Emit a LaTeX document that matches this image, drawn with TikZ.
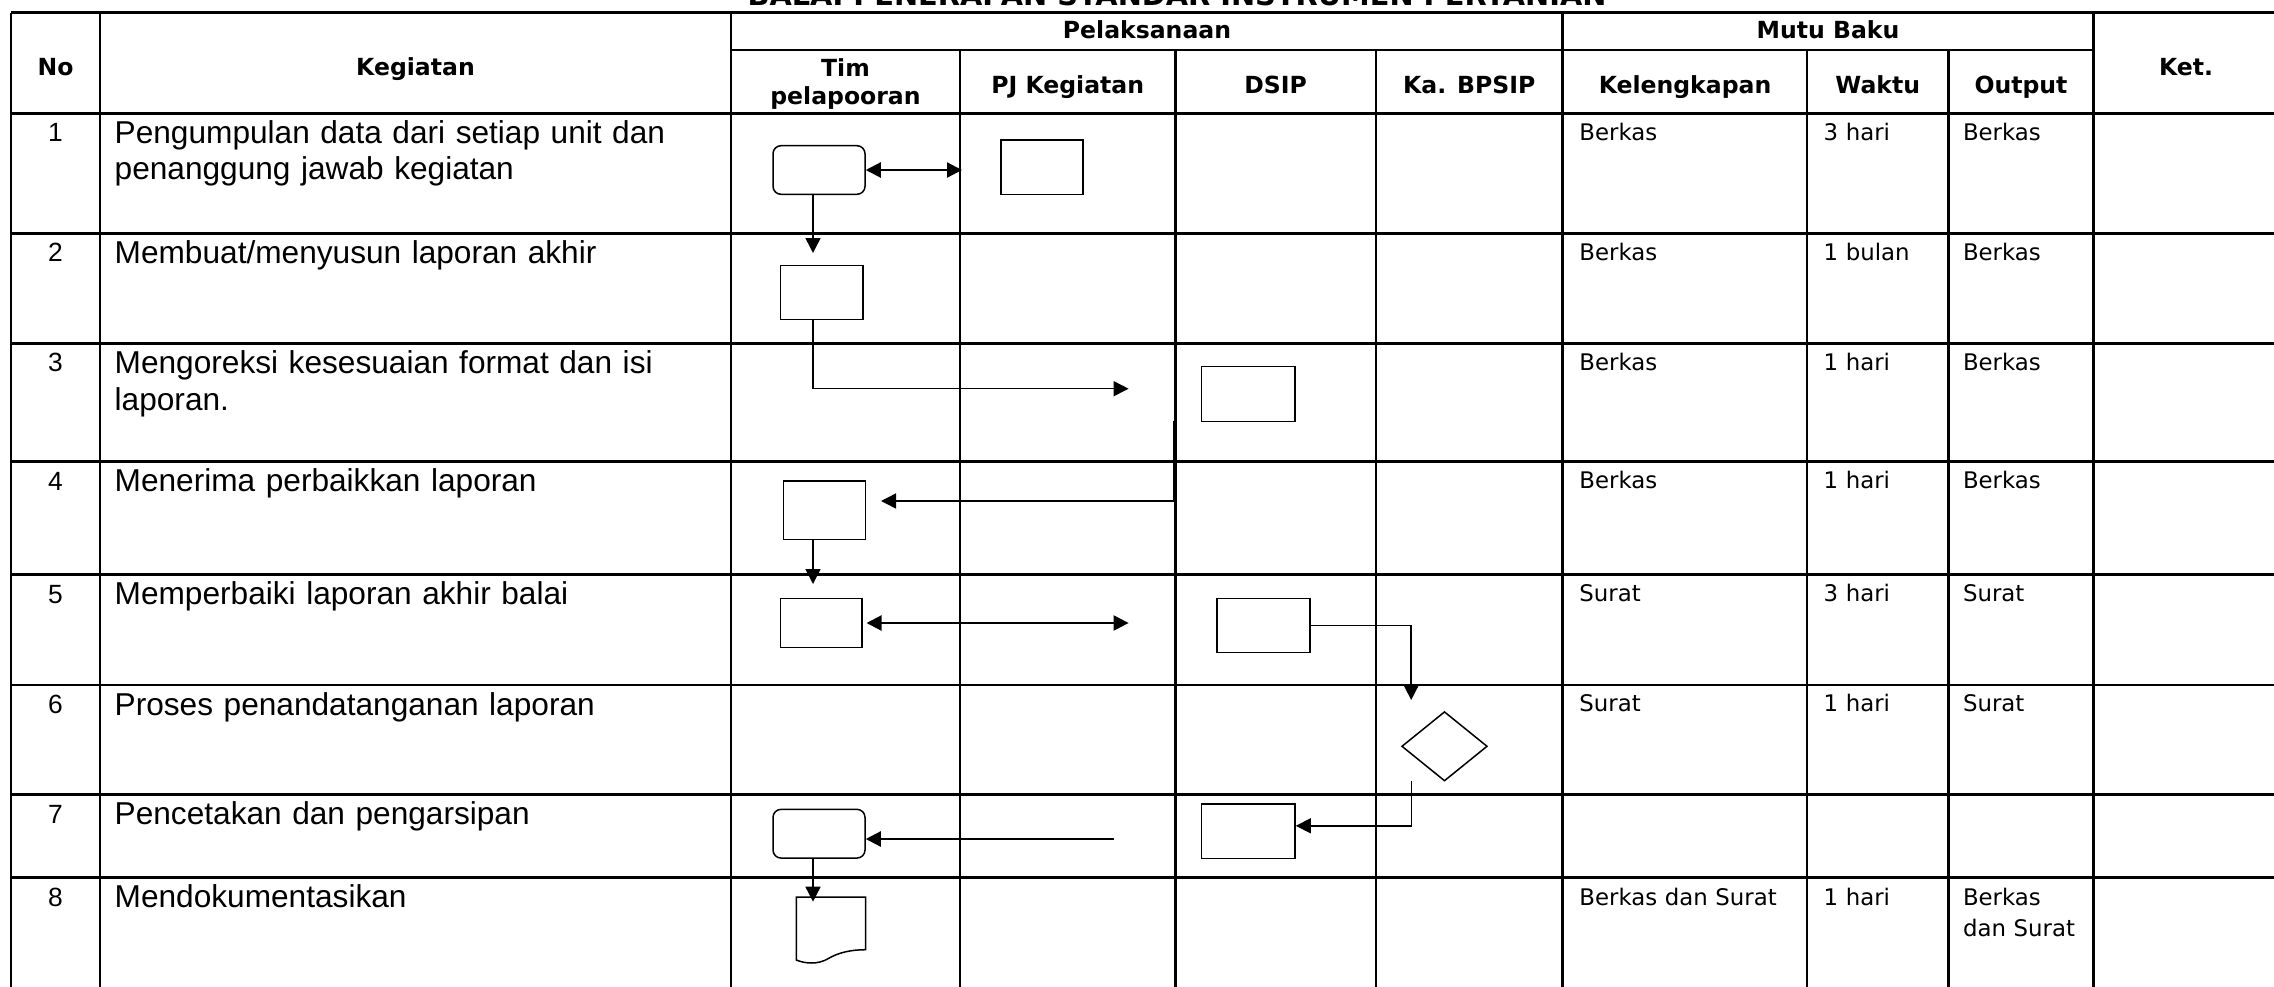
\documentclass[tikz,border=0pt]{standalone}
\usepackage{fontspec}
\setmainfont{Liberation Sans}
\newfontfamily\tahoma{DejaVu Sans}
\usetikzlibrary{arrows.meta,shapes.geometric}

\begin{document}
\begin{tikzpicture}[
  every node/.style={inner sep=0pt},
  tline/.style ={line width=0.25mm},
  hd/.style    ={anchor=base, font=\tahoma\bfseries\fontsize{6.7}{8.2}\selectfont, align=center},
  keg/.style   ={anchor=base west, text width=6cm, align=left, font=\fontsize{9}{10.4}\selectfont},
  num/.style   ={anchor=base, font=\fontsize{7.5}{9}\selectfont},
  cell/.style  ={anchor=base west, text width=2.2cm, align=left, font=\tahoma\fontsize{6.5}{9}\selectfont},
  box/.style   ={draw, line width=0.15mm},
  term/.style  ={box, rounded corners=0.8mm},
  dec/.style   ={box, diamond},
  flow/.style  ={-{Triangle[length=1.5mm,width=1.5mm]}, line width=0.15mm},
  both/.style  ={{Triangle[length=1.5mm,width=1.5mm]}-{Triangle[length=1.5mm,width=1.5mm]}, line width=0.22mm},
]
\useasboundingbox (0,0) rectangle (22.74,-9.87);

% table
\draw[tline] (0.11,-0.127) -- (22.78,-0.127)
  (7.31,-0.50) -- (20.936,-0.50)
  (0.11,-1.133) -- (22.78,-1.133)
  (0.11,-2.333) -- (22.78,-2.333)
  (0.11,-3.435) -- (22.78,-3.435)
  (0.11,-4.617) -- (22.78,-4.617)
  (0.11,-5.747) -- (22.78,-5.747)
  (0.11,-6.85) -- (22.78,-6.85)
  (0.11,-7.947) -- (22.78,-7.947)
  (0.11,-8.777) -- (22.78,-8.777);
\draw[tline] (0.11,-0.127) -- (0.11,-9.95)
  (1.00,-0.127) -- (1.00,-9.95)
  (7.31,-0.127) -- (7.31,-9.95)
  (15.627,-0.127) -- (15.627,-9.95)
  (20.936,-0.127) -- (20.936,-9.95)
  (22.78,-0.127) -- (22.78,-9.95);
\draw[tline] (9.60,-0.50) -- (9.60,-9.95)
  (11.755,-0.50) -- (11.755,-9.95)
  (13.76,-0.50) -- (13.76,-9.95)
  (18.07,-0.50) -- (18.07,-9.95)
  (19.483,-0.50) -- (19.483,-9.95);

\node[hd, font=\tahoma\bfseries\fontsize{8.2}{10}\selectfont] (judul) at (11.77,-0.055) {BALAI PENERAPAN STANDAR INSTRUMEN PERTANIAN};

% header
\node[hd] (hno)  at (0.555,-0.75) {No};
\node[hd] (hkeg) at (4.155,-0.75) {Kegiatan};
\node[hd] (hpel) at (11.47,-0.385) {Pelaksanaan};
\node[hd] (hmut) at (18.28,-0.385) {Mutu Baku};
\node[hd] (hket) at (21.86,-0.75) {Ket.};
\node[hd, text width=2cm] (htim) at (8.455,-0.76) {Tim\\pelapooran};
\node[hd] (hpj)  at (10.677,-0.933) {PJ Kegiatan};
\node[hd] (hds)  at (12.757,-0.933) {DSIP};
\node[hd] (hka)  at (14.693,-0.933) {Ka. BPSIP};
\node[hd] (hkel) at (16.85,-0.933) {Kelengkapan};
\node[hd] (hwkt) at (18.777,-0.933) {Waktu};
\node[hd] (hout) at (20.21,-0.933) {Output};

% kegiatan
\node[num] (n1) at (0.555,-1.416) {1};
\node[keg] (k1) at (1.14,-1.433) {Pengumpulan data dari setiap unit dan\\penanggung jawab kegiatan};
\node[num] (n2) at (0.555,-2.616) {2};
\node[keg] (k2) at (1.14,-2.633) {Membuat/menyusun laporan akhir};
\node[num] (n3) at (0.555,-3.718) {3};
\node[keg] (k3) at (1.14,-3.735) {Mengoreksi kesesuaian format dan isi\\laporan.};
\node[num] (n4) at (0.555,-4.900) {4};
\node[keg] (k4) at (1.14,-4.917) {Menerima perbaikkan laporan};
\node[num] (n5) at (0.555,-6.030) {5};
\node[keg] (k5) at (1.14,-6.047) {Memperbaiki laporan akhir balai};
\node[num] (n6) at (0.555,-7.133) {6};
\node[keg] (k6) at (1.14,-7.15) {Proses penandatanganan laporan};
\node[num] (n7) at (0.555,-8.230) {7};
\node[keg] (k7) at (1.14,-8.247) {Pencetakan dan pengarsipan};
\node[num] (n8) at (0.555,-9.060) {8};
\node[keg] (k8) at (1.14,-9.077) {Mendokumentasikan};

% mutu baku
\node[cell] (kel1) at (15.787,-1.40) {Berkas};
\node[cell] (wkt1) at (18.23,-1.40) {3 hari};
\node[cell] (out1) at (19.623,-1.40) {Berkas};
\node[cell] (kel2) at (15.787,-2.60) {Berkas};
\node[cell] (wkt2) at (18.23,-2.60) {1 bulan};
\node[cell] (out2) at (19.623,-2.60) {Berkas};
\node[cell] (kel3) at (15.787,-3.702) {Berkas};
\node[cell] (wkt3) at (18.23,-3.702) {1 hari};
\node[cell] (out3) at (19.623,-3.702) {Berkas};
\node[cell] (kel4) at (15.787,-4.884) {Berkas};
\node[cell] (wkt4) at (18.23,-4.884) {1 hari};
\node[cell] (out4) at (19.623,-4.884) {Berkas};
\node[cell] (kel5) at (15.787,-6.014) {Surat};
\node[cell] (wkt5) at (18.23,-6.014) {3 hari};
\node[cell] (out5) at (19.623,-6.014) {Surat};
\node[cell] (kel6) at (15.787,-7.117) {Surat};
\node[cell] (wkt6) at (18.23,-7.117) {1 hari};
\node[cell] (out6) at (19.623,-7.117) {Surat};
\node[cell] (kel8) at (15.787,-9.05) {Berkas dan Surat};
\node[cell] (wkt8) at (18.23,-9.05) {1 hari};
\node[cell] (out8) at (19.623,-9.05) {Berkas\\dan Surat};

% flow symbols
\node[term, minimum width=0.92cm,  minimum height=0.486cm] (t1) at (8.19,-1.70) {};
\node[box,  minimum width=0.82cm,  minimum height=0.543cm] (p1) at (10.42,-1.671) {};
\node[box,  minimum width=0.824cm, minimum height=0.54cm]  (t2) at (8.218,-2.927) {};
\node[box,  minimum width=0.935cm, minimum height=0.546cm] (d3) at (12.483,-3.94) {};
\node[box,  minimum width=0.816cm, minimum height=0.583cm] (t4) at (8.245,-5.102) {};
\node[box,  minimum width=0.811cm, minimum height=0.486cm] (t5) at (8.212,-6.23) {};
\node[box,  minimum width=0.934cm, minimum height=0.54cm]  (d5) at (12.635,-6.257) {};
\node[dec,  minimum width=0.856cm, minimum height=0.694cm] (k6d) at (14.445,-7.463) {};
\node[box,  minimum width=0.935cm, minimum height=0.543cm] (d7) at (12.483,-8.311) {};
\node[term, minimum width=0.92cm,  minimum height=0.487cm] (t7) at (8.19,-8.337) {};
\node[minimum width=0.68cm, minimum height=0.65cm] (doc8) at (8.31,-9.302) {};
\draw[box] (doc8.north west) -- (doc8.north east) -- ([yshift=1.37mm]doc8.south east)
  .. controls +(-1.5mm,0) and +(1mm,0.6mm) .. ([xshift=-0.3mm,yshift=0.47mm]doc8.south)
  .. controls +(-1mm,-0.6mm) and +(0.9mm,-0.37mm) .. ([yshift=0.34mm]doc8.south west) -- cycle;

% free ends
\coordinate (lane) at (8.13,0);
\coordinate (pj1) at (9.62,-1.70);
\coordinate (a2)  at (8.13,-2.53);
\coordinate (a3)  at (11.286,-3.887);
\coordinate (r4a) at (11.735,-4.207);
\coordinate (r4b) at (8.81,-5.01);
\coordinate (a5)  at (8.13,-5.84);
\coordinate (d5l) at (11.286,-6.25);
\coordinate (a6)  at (14.112,-7.00);
\coordinate (r7a) at (14.117,-7.81);
\coordinate (r7b) at (11.14,-8.39);
\coordinate (a8)  at (8.13,-9.017);

% connectors
\draw[both] (t1.east) -- (pj1);
\draw[flow] (t1.south -| lane) -- (a2);
\draw[flow] (t2.south -| lane) |- (a3);
\draw[flow] (r4a) |- (r4b);
\draw[flow] (t4.south -| lane) -- (a5);
\draw[both] ([xshift=0.4mm]t5.east) -- (t5.east -| d5l);
\draw[flow] (d5.east) -| (a6);
\draw[flow] (r7a) |- ([yshift=0.53mm]d7.east);
\draw[flow, line width=0.22mm] (r7b) -- (r7b -| t7.east);
\draw[flow] (t7.south -| lane) -- (a8);

\end{tikzpicture}
\end{document}
